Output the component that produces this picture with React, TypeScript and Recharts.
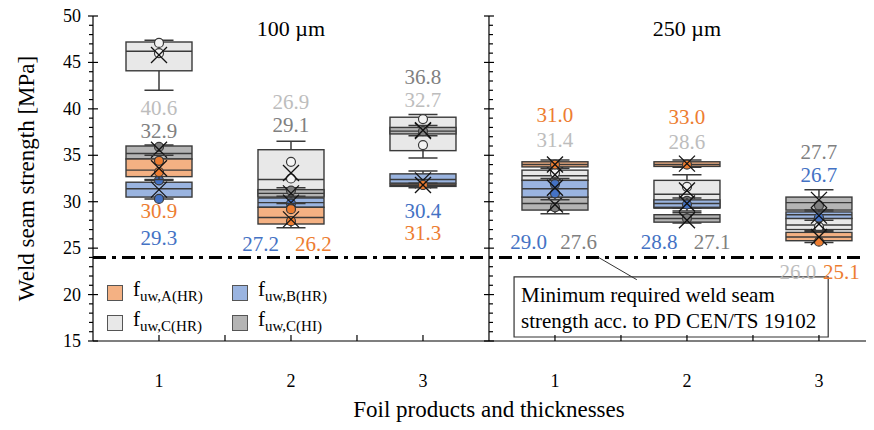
import React from 'react';
import { ComposedChart, Bar, XAxis, YAxis, ReferenceLine, ReferenceArea, ReferenceDot } from 'recharts';

const positions = [1, 2, 3, 4, 5, 6];
const tickLabels = ['1', '2', '3', '1', '2', '3'];
const xTicks = [1, 1.5, 2, 2.5, 3, 4, 4.5, 5, 5.5, 6];
const yTicks = Array.from({ length: 36 }, (_, i) => 15 + i);

// [min, q1, median, q3, max, mean] per product
const boxA = [
  [32.4, 32.7, 33.4, 34.6, 35.0, 33.6],
  [27.2, 27.6, 28.3, 29.4, 29.8, 28.1],
  [31.5, 31.65, 31.75, 31.9, 32.0, 31.8],
  [33.6, 33.75, 34.0, 34.3, 34.5, 34.0],
  [33.7, 33.8, 34.0, 34.3, 34.5, 34.1],
  [25.6, 25.8, 26.2, 26.7, 26.9, 26.2],
];
const boxB = [
  [30.3, 30.5, 31.4, 32.1, 32.3, 31.3],
  [29.2, 29.4, 29.9, 30.4, 30.6, 29.9],
  [31.9, 32.0, 32.4, 33.0, 33.3, 32.3],
  [30.2, 30.5, 31.4, 32.3, 32.5, 31.5],
  [29.3, 29.4, 29.8, 30.2, 30.4, 29.8],
  [28.0, 28.2, 28.6, 28.9, 29.1, 28.5],
];
const boxCHR = [
  [42.0, 44.1, 46.2, 47.2, 47.4, 45.8],
  [27.9, 30.6, 32.4, 35.6, 36.5, 33.1],
  [34.7, 35.5, 37.6, 39.1, 39.4, 37.6],
  [32.2, 32.3, 32.8, 33.4, 33.8, 32.9],
  [29.0, 29.3, 30.8, 32.3, 32.9, 31.2],
  [26.8, 27.0, 27.5, 28.2, 28.4, 27.6],
];
const boxCHI = [
  [34.3, 34.6, 35.2, 36.0, 36.1, 35.6],
  [30.3, 30.5, 30.9, 31.3, 31.5, 30.9],
  [37.1, 37.3, 37.6, 38.0, 38.2, 37.7],
  [28.7, 29.1, 29.8, 30.5, 30.7, 29.7],
  [27.7, 27.8, 28.2, 28.6, 28.8, 28.0],
  [28.9, 29.1, 29.9, 30.5, 31.3, 30.2],
];

const pointsA = [[33.2, 34.4], [29.2, 27.9], [31.8], [34.0], [34.0], [25.7]];
const pointsB = [[32.3, 30.3], [29.8], [31.8], [31.9, 30.9], [29.7], [28.3]];
const pointsCHR = [[47.1, 46.0], [34.3, 32.5], [38.9, 36.1], [33.1], [31.6, 30.1], [27.3]];
const pointsCHI = [[35.9], [31.2], [37.6], [29.4], [28.2], [29.6]];

// value labels: position, height in MPa, text, series
const annotations = [
  { pos: 1, val: 40.1, text: '40.6', s: 'CHR' },
  { pos: 1, val: 37.6, text: '32.9', s: 'CHI' },
  { pos: 1, val: 29.0, text: '30.9', s: 'A' },
  { pos: 1, val: 26.1, text: '29.3', s: 'B' },
  { pos: 2, val: 40.7, text: '26.9', s: 'CHR' },
  { pos: 2, val: 38.3, text: '29.1', s: 'CHI' },
  { pos: 1.77, val: 25.5, text: '27.2', s: 'B' },
  { pos: 2.17, val: 25.5, text: '26.2', s: 'A' },
  { pos: 3, val: 43.4, text: '36.8', s: 'CHI' },
  { pos: 3, val: 41.0, text: '32.7', s: 'CHR' },
  { pos: 3, val: 29.0, text: '30.4', s: 'B' },
  { pos: 3, val: 26.6, text: '31.3', s: 'A' },
  { pos: 4, val: 39.3, text: '31.0', s: 'A' },
  { pos: 4, val: 36.6, text: '31.4', s: 'CHR' },
  { pos: 3.8, val: 25.7, text: '29.0', s: 'B' },
  { pos: 4.18, val: 25.7, text: '27.6', s: 'CHI' },
  { pos: 5, val: 39.1, text: '33.0', s: 'A' },
  { pos: 5, val: 36.4, text: '28.6', s: 'CHR' },
  { pos: 4.79, val: 25.7, text: '28.8', s: 'B' },
  { pos: 5.19, val: 25.7, text: '27.1', s: 'CHI' },
  { pos: 6, val: 35.4, text: '27.7', s: 'CHI' },
  { pos: 6, val: 32.9, text: '26.7', s: 'B' },
  { pos: 5.84, val: 22.4, text: '26.0', s: 'CHR' },
  { pos: 6.17, val: 22.4, text: '25.1', s: 'A' },
];

const panelTitles = [
  { pos: 2, text: '100 µm' },
  { pos: 5, text: '250 µm' },
];

const series = [
  { key: 'CHR', sub: 'C(HR)', box: boxCHR, points: pointsCHR, fill: '#E8E8E8', marker: '#F4F4F4', label: '#BDBDBD' },
  { key: 'CHI', sub: 'C(HI)', box: boxCHI, points: pointsCHI, fill: '#B4B4B4', marker: '#7F7F7F', label: '#808080' },
  { key: 'B', sub: 'B(HR)', box: boxB, points: pointsB, fill: '#9AB4E0', marker: '#4472C4', label: '#4472C4' },
  { key: 'A', sub: 'A(HR)', box: boxA, points: pointsA, fill: '#F4B183', marker: '#ED7D31', label: '#ED7D31' },
];
const legendOrder = ['A', 'B', 'CHR', 'CHI'];
const labelColor: Record<string, string> = Object.fromEntries(series.map((s) => [s.key, s.label]));

const data = positions.map((pos, i) => {
  const row: any = { pos };
  series.forEach((s) => {
    row[s.key] = { box: s.box[i], pts: s.points[i] };
  });
  return row;
});

const FONT = '"Liberation Serif", "Times New Roman", serif';
const EDGE = '#3a3a3a';

const BoxShape = (props: any) => {
  const { x, y, width, height, payload, skey, fill, marker } = props;
  const [mn, q1, med, q3, mx, mean] = payload[skey].box;
  const k = height / (q3 - q1);
  const py = (v: number) => y + (q3 - v) * k;
  const cx = x + width / 2;
  const cap = width * 0.22;
  const m = py(mean);
  return (
    <g>
      <line x1={cx} x2={cx} y1={py(mx)} y2={y} stroke={EDGE} strokeWidth={1.5} />
      <line x1={cx} x2={cx} y1={y + height} y2={py(mn)} stroke={EDGE} strokeWidth={1.5} />
      <line x1={cx - cap} x2={cx + cap} y1={py(mx)} y2={py(mx)} stroke={EDGE} strokeWidth={1.5} />
      <line x1={cx - cap} x2={cx + cap} y1={py(mn)} y2={py(mn)} stroke={EDGE} strokeWidth={1.5} />
      <rect x={x} y={y} width={width} height={height} fill={fill} stroke={EDGE} strokeWidth={1.4} />
      <line x1={x} x2={x + width} y1={py(med)} y2={py(med)} stroke={EDGE} strokeWidth={1.4} />
      {payload[skey].pts.map((p: number, j: number) => (
        <circle key={j} cx={cx} cy={py(p)} r={4.5} fill={marker} stroke={EDGE} strokeWidth={1.2} />
      ))}
      <line x1={cx - 8} x2={cx + 8} y1={m - 8} y2={m + 8} stroke="#111" strokeWidth={1.3} />
      <line x1={cx - 8} x2={cx + 8} y1={m + 8} y2={m - 8} stroke="#111" strokeWidth={1.3} />
    </g>
  );
};

const YTick = ({ x, y, payload }: any) => {
  const v = payload.value;
  const major = v % 5 === 0;
  return (
    <g>
      <line x1={major ? x - 5 : x - 4} x2={major ? x + 5 : x} y1={y} y2={y} stroke="#000" strokeWidth={1.2} />
      {major && (
        <text x={x - 12} y={y} textAnchor="end" dominantBaseline="central" fontSize={18} fontFamily={FONT} fill="#000">
          {v}
        </text>
      )}
    </g>
  );
};

const TextShape = (color: string, text: string, size: number) => (p: any) => (
  <text x={p.cx} y={p.cy} textAnchor="middle" dominantBaseline="central" fontSize={size} fontFamily={FONT} fill={color}>
    {text}
  </text>
);

export default function App() {
  const xDomain: [number, number] = [0.5, 6.417];
  return (
    <div style={{ position: 'relative', width: 866, height: 430, marginTop: -8, fontFamily: FONT }}>
      <ComposedChart width={866} height={430} data={data} margin={{ top: 16, right: 0, bottom: 89, left: 0 }}>
        {series.map((s) => (
          <XAxis
            key={s.key}
            xAxisId={s.key}
            dataKey="pos"
            type="number"
            domain={xDomain}
            allowDataOverflow
            hide
            ticks={xTicks}
          />
        ))}
        <YAxis
          type="number"
          domain={[15, 50]}
          ticks={yTicks}
          interval={0}
          width={85}
          tickSize={0}
          tickMargin={0}
          tickLine={false}
          tick={<YTick />}
          axisLine={{ stroke: '#000', strokeWidth: 1.2 }}
          label={{
            content: (p: any) => {
              const cx = 18;
              const cy = p.viewBox.y + p.viewBox.height / 2;
              return (
                <text
                  x={cx}
                  y={cy}
                  transform={`rotate(-90 ${cx} ${cy})`}
                  textAnchor="middle"
                  dominantBaseline="central"
                  fontSize={23}
                  fontFamily={FONT}
                  fill="#000"
                >
                  Weld seam strength [MPa]
                </text>
              );
            },
          }}
        />
        <ReferenceLine xAxisId="CHR" y={15} stroke="#000" strokeWidth={1.2} />
        {xTicks.map((t) => (
          <ReferenceLine
            key={'xt' + t}
            xAxisId="CHR"
            segment={[
              { x: t, y: 15 },
              { x: t, y: 15 + 6 / 9.286 },
            ]}
            stroke="#000"
            strokeWidth={1.2}
          />
        ))}
        {positions.map((p, i) => (
          <ReferenceDot
            key={'xl' + p}
            xAxisId="CHR"
            x={p}
            y={10.7}
            r={0}
            ifOverflow="visible"
            shape={TextShape('#000', tickLabels[i], 18)}
          />
        ))}
        <ReferenceDot
          xAxisId="CHR"
          x={3.5}
          y={7.6}
          r={0}
          ifOverflow="visible"
          shape={TextShape('#000', 'Foil products and thicknesses', 23)}
        />
        <ReferenceLine xAxisId="CHR" x={3.5} stroke="#000" strokeWidth={1.2} />
        {yTicks.map((v) => (
          <ReferenceLine
            key={'dt' + v}
            xAxisId="CHR"
            segment={[
              { x: v % 5 === 0 ? 3.5 - 5 / 132 : 3.5, y: v },
              { x: 3.5 + (v % 5 === 0 ? 5 : 4) / 132, y: v },
            ]}
            stroke="#000"
            strokeWidth={1.2}
          />
        ))}
        {series.map((s) => (
          <Bar
            key={s.key}
            xAxisId={s.key}
            dataKey={(r: any) => [r[s.key].box[1], r[s.key].box[3]]}
            barSize={66}
            isAnimationActive={false}
            shape={(p: any) => <BoxShape {...p} skey={s.key} fill={s.fill} marker={s.marker} />}
          />
        ))}
        <ReferenceLine xAxisId="CHR" y={24} stroke="#000" strokeWidth={3} strokeDasharray="13 6 4 6" />
        <ReferenceArea
          xAxisId="CHR"
          x1={3.69}
          x2={6.07}
          y1={15.43}
          y2={21.9}
          fill="#fff"
          fillOpacity={1}
          stroke="#333"
          strokeWidth={1.2}
          label={{
            content: (p: any) => (
              <text x={p.viewBox.x + 7} y={p.viewBox.y + 25} fontSize={21} fontFamily={FONT} fill="#000">
                <tspan x={p.viewBox.x + 7}>Minimum required weld seam</tspan>
                <tspan x={p.viewBox.x + 7} dy={26}>strength acc. to PD CEN/TS 19102</tspan>
              </text>
            ),
          }}
        />
        <ReferenceLine
          xAxisId="CHR"
          segment={[
            { x: 4.33, y: 24 },
            { x: 4.62, y: 21.6 },
          ]}
          stroke="#333"
          strokeWidth={1}
        />
        {annotations.map((a, i) => (
          <ReferenceDot
            key={'an' + i}
            xAxisId="CHR"
            x={a.pos}
            y={a.val}
            r={0}
            shape={TextShape(labelColor[a.s], a.text, 21)}
          />
        ))}
        {panelTitles.map((t) => (
          <ReferenceDot key={t.text} xAxisId="CHR" x={t.pos} y={48.7} r={0} shape={TextShape('#000', t.text, 22)} />
        ))}
      </ComposedChart>
      <div
        style={{
          position: 'absolute',
          left: 99,
          top: 278,
          display: 'grid',
          gridTemplateColumns: '125px 125px',
        }}
      >
        {legendOrder.map((key) => {
          const s = series.find((q) => q.key === key)!;
          return (
            <div key={key} style={{ display: 'flex', alignItems: 'center', height: 30 }}>
              <span
                style={{
                  display: 'inline-block',
                  width: 14,
                  height: 14,
                  background: s.fill,
                  border: '1.3px solid #555',
                  marginRight: 10,
                }}
              />
              <span style={{ fontSize: 21, lineHeight: '20px' }}>
                f<sub style={{ fontSize: 15 }}>uw,{s.sub}</sub>
              </span>
            </div>
          );
        })}
      </div>
    </div>
  );
}
